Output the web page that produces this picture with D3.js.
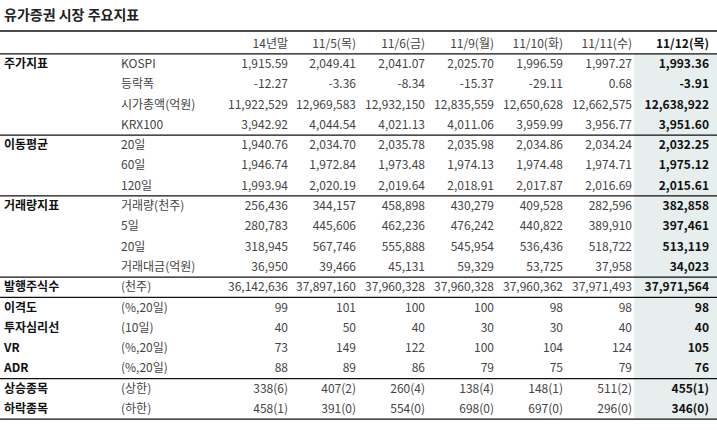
<!DOCTYPE html><html><head><meta charset="utf-8"><script src="https://cdn.jsdelivr.net/npm/d3@7"></script>
<style>body{margin:0;background:#fff}text{font-family:"Noto Sans CJK KR","Noto Sans",sans-serif}</style></head><body><svg id="c" width="717" height="430"></svg>
<script>
const title="유가증권 시장 주요지표";
const columns=["14년말","11/5(목)","11/6(금)","11/9(월)","11/10(화)","11/11(수)","11/12(목)"];
const groups=["주가지표","","","","이동평균","","","거래량지표","","","","발행주식수","이격도","투자심리선","VR","ADR","상승종목","하락종목"];
const subs=["KOSPI","등락폭","시가총액(억원)","KRX100","20일","60일","120일","거래량(천주)","5일","20일","거래대금(억원)","(천주)","(%,20일)","(10일)","(%,20일)","(%,20일)","(상한)","(하한)"];
const values=[
["1,915.59","2,049.41","2,041.07","2,025.70","1,996.59","1,997.27","1,993.36"],
["-12.27","-3.36","-8.34","-15.37","-29.11","0.68","-3.91"],
["11,922,529","12,969,583","12,932,150","12,835,559","12,650,628","12,662,575","12,638,922"],
["3,942.92","4,044.54","4,021.13","4,011.06","3,959.99","3,956.77","3,951.60"],
["1,940.76","2,034.70","2,035.78","2,035.98","2,034.86","2,034.24","2,032.25"],
["1,946.74","1,972.84","1,973.48","1,974.13","1,974.48","1,974.71","1,975.12"],
["1,993.94","2,020.19","2,019.64","2,018.91","2,017.87","2,016.69","2,015.61"],
["256,436","344,157","458,898","430,279","409,528","282,596","382,858"],
["280,783","445,606","462,236","476,242","440,822","389,910","397,461"],
["318,945","567,746","555,888","545,954","536,436","518,722","513,119"],
["36,950","39,466","45,131","59,329","53,725","37,958","34,023"],
["36,142,636","37,897,160","37,960,328","37,960,328","37,960,362","37,971,493","37,971,564"],
["99","101","100","100","98","98","98"],
["40","50","40","30","30","40","40"],
["73","149","122","100","104","124","105"],
["88","89","86","79","75","79","76"],
["338(6)","407(2)","260(4)","138(4)","148(1)","511(2)","455(1)"],
["458(1)","391(0)","554(0)","698(0)","697(0)","296(0)","346(0)"]];
const sepAfter=[-1,3,6,10,11,15,17];
const svg=d3.select("#c");
const y=d3.scaleLinear().domain([0,17]).range([64,409]);
const colRight=[288,356,425,494,563,632,709];
svg.append("rect").attr("x",634).attr("y",y(-0.5)).attr("width",83).attr("height",y(17.5)-y(-0.5)).attr("fill","#e6efee");
svg.append("text").attr("x",4).attr("y",20).attr("font-size",14).attr("font-weight","bold").attr("fill","#222").text(title);
[31].concat(sepAfter.map(i=>y(i+0.5))).forEach(v=>svg.append("line").attr("x1",0).attr("x2",717).attr("y1",v).attr("y2",v).attr("stroke","#111").attr("stroke-width",1.3));
columns.forEach((c,j)=>svg.append("text").attr("x",colRight[j]).attr("y",y(-1)+4).attr("text-anchor","end").attr("font-size",12)
 .attr("font-weight",j==6?"bold":"normal").attr("fill",j==6?"#111":"#444").text(c));
values.forEach((r,i)=>{
 svg.append("text").attr("x",4).attr("y",y(i)+4).attr("font-size",12).attr("font-weight","bold").attr("fill","#111").text(groups[i]);
 svg.append("text").attr("x",121).attr("y",y(i)+4).attr("font-size",12).attr("fill","#444").text(subs[i]);
 r.forEach((v,j)=>svg.append("text").attr("x",colRight[j]).attr("y",y(i)+4).attr("text-anchor","end").attr("font-size",12)
  .attr("font-weight",j==6?"bold":"normal").attr("fill",j==6?"#111":"#444").text(v));
});
</script></body></html>
